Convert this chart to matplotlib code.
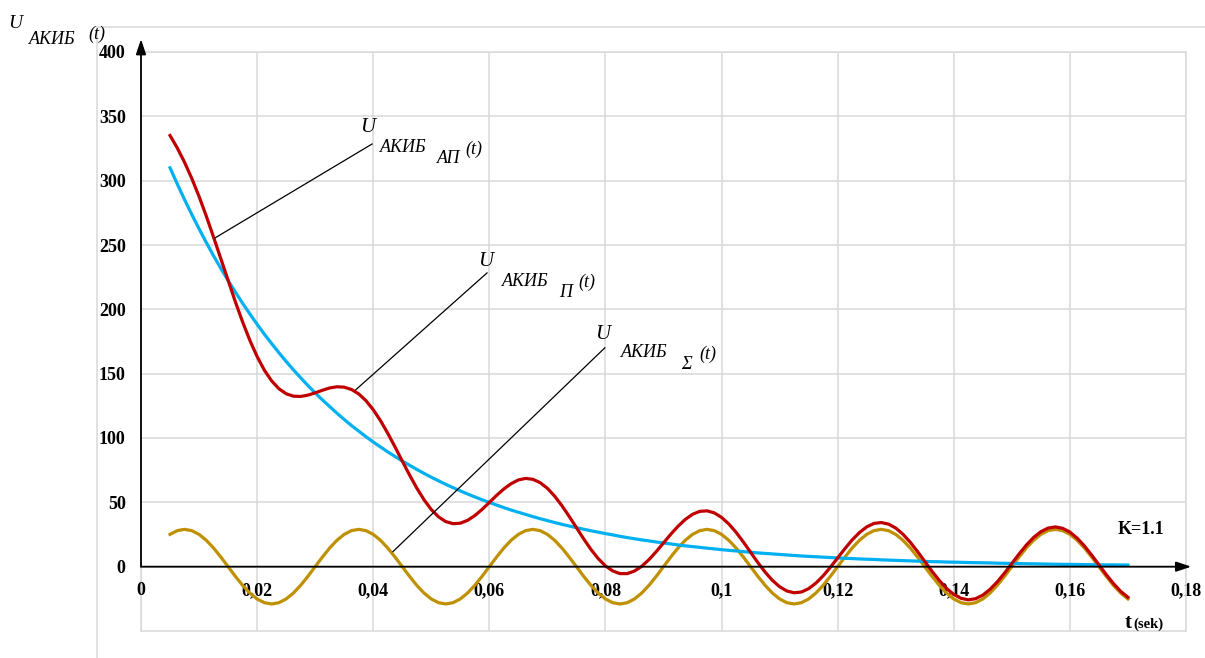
import matplotlib
matplotlib.use("Agg")
import numpy as np
import matplotlib.pyplot as plt
from matplotlib.lines import Line2D

plt.rcParams['font.family'] = ['Liberation Serif', 'DejaVu Serif']

# sample times, sek (every 1.25 ms from 0.005 to 0.17)
t = np.linspace(0.005, 0.17, 133)

# U_AKIB_P (t) - aperiodic part (blue)
u_p = [310, 297.4, 285.3, 273.7, 262.6, 251.9, 241.6, 231.8, 222.4, 213.4,
       204.7, 196.4, 188.4, 180.7, 173.4, 166.3, 159.5, 153.0, 146.8, 140.8,
       135.1, 129.6, 124.4, 119.3, 114.4, 109.7, 105.3, 101.0, 96.9, 93.0,
       89.2, 85.6, 82.1, 78.8, 75.6, 72.5, 69.5, 66.7, 64.0, 61.4,
       58.9, 56.5, 54.2, 52.0, 49.9, 47.9, 45.9, 44.0, 42.3, 40.6,
       38.9, 37.3, 35.8, 34.3, 32.9, 31.6, 30.3, 29.1, 27.9, 26.8,
       25.7, 24.7, 23.6, 22.6, 21.7, 20.8, 20.0, 19.2, 18.4, 17.7,
       16.9, 16.2, 15.6, 15.0, 14.4, 13.8, 13.2, 12.7, 12.2, 11.7,
       11.2, 10.7, 10.3, 9.9, 9.5, 9.1, 8.7, 8.3, 8.0, 7.7,
       7.4, 7.1, 6.8, 6.5, 6.3, 6.0, 5.8, 5.6, 5.3, 5.1,
       4.9, 4.7, 4.5, 4.3, 4.1, 3.9, 3.8, 3.6, 3.5, 3.4,
       3.2, 3.1, 3.0, 2.9, 2.7, 2.6, 2.5, 2.4, 2.3, 2.2,
       2.1, 2.0, 1.9, 1.8, 1.8, 1.7, 1.6, 1.5, 1.5, 1.4,
       1.4, 1.3, 1.3]

# U_AKIB_Sigma (t) - periodic part (gold)
u_s = [25.1, 28.0, 29, 28.0, 25.1, 20.5, 14.5, 7.5, 0, -7.5,
       -14.5, -20.5, -25.1, -28.0, -29, -28.0, -25.1, -20.5, -14.5, -7.5,
       0, 7.5, 14.5, 20.5, 25.1, 28.0, 29, 28.0, 25.1, 20.5,
       14.5, 7.5, 0, -7.5, -14.5, -20.5, -25.1, -28.0, -29, -28.0,
       -25.1, -20.5, -14.5, -7.5, 0, 7.5, 14.5, 20.5, 25.1, 28.0,
       29, 28.0, 25.1, 20.5, 14.5, 7.5, 0, -7.5, -14.5, -20.5,
       -25.1, -28.0, -29, -28.0, -25.1, -20.5, -14.5, -7.5, 0, 7.5,
       14.5, 20.5, 25.1, 28.0, 29, 28.0, 25.1, 20.5, 14.5, 7.5,
       0, -7.5, -14.5, -20.5, -25.1, -28.0, -29, -28.0, -25.1, -20.5,
       -14.5, -7.5, 0, 7.5, 14.5, 20.5, 25.1, 28.0, 29, 28.0,
       25.1, 20.5, 14.5, 7.5, 0, -7.5, -14.5, -20.5, -25.1, -28.0,
       -29, -28.0, -25.1, -20.5, -14.5, -7.5, 0, 7.5, 14.5, 20.5,
       25.1, 28.0, 29, 28.0, 25.1, 20.5, 14.5, 7.5, 0, -7.5,
       -14.5, -20.5, -25.1]

# U_AKIB_AP (t) - total (red)
u_ap = [335.1, 325.4, 314.3, 301.7, 287.7, 272.4, 256.1, 239.3, 222.4, 205.9,
        190.2, 175.9, 163.3, 152.7, 144.4, 138.3, 134.4, 132.5, 132.3, 133.3,
        135.1, 137.1, 138.9, 139.8, 139.5, 137.7, 134.3, 129.0, 122.0, 113.5,
        103.7, 93.1, 82.1, 71.3, 61.1, 52.0, 44.4, 38.7, 35.0, 33.4,
        33.8, 36.0, 39.7, 44.5, 49.9, 55.4, 60.4, 64.5, 67.4, 68.6,
        67.9, 65.3, 60.9, 54.8, 47.4, 39.1, 30.3, 21.6, 13.4, 6.3,
        0.6, -3.3, -5.4, -5.4, -3.4, 0.3, 5.5, 11.7, 18.4, 25.2,
        31.4, 36.7, 40.7, 43.0, 43.4, 41.8, 38.3, 33.2, 26.7, 19.2,
        11.2, 3.2, -4.2, -10.6, -15.6, -18.9, -20.3, -19.7, -17.1, -12.8,
        -7.1, -0.4, 6.8, 14.0, 20.8, 26.5, 30.9, 33.6, 34.3, 33.1,
        30.0, 25.2, 19.0, 11.8, 4.1, -3.6, -10.7, -16.9, -21.6, -24.6,
        -25.8, -24.9, -22.1, -17.6, -11.8, -4.9, 2.5, 9.9, 16.8, 22.7,
        27.2, 30.0, 30.9, 29.8, 26.9, 22.2, 16.1, 9.0, 1.5, -6.1,
        -13.1, -19.2, -23.8]

xticks = [0, 0.02, 0.04, 0.06, 0.08, 0.1, 0.12, 0.14, 0.16, 0.18]
xlabels = ['0', '0,02', '0,04', '0,06', '0,08', '0,1', '0,12', '0,14', '0,16', '0,18']
yticks = [0, 50, 100, 150, 200, 250, 300, 350, 400]

grid_c = '#d9d9d9'

fig = plt.figure(figsize=(12.05, 6.58), dpi=100)
ax = fig.add_axes([141/1205, 1 - 631/658, (1186 - 141)/1205, (631 - 52)/658])
ax.set_xlim(0, 0.18)
ax.set_ylim(-50, 400)

ax.plot(t, u_s, color='#BF9000', lw=2.3, zorder=3)
ax.plot(t, u_p, color='#00B0F0', lw=2.3, zorder=4)
ax.plot(t, u_ap, color='#C00000', lw=2.3, zorder=5)

# x tick labels sit on the y=0 line
ax.spines['bottom'].set_position(('data', 0))
ax.spines['bottom'].set_visible(False)
ax.spines['left'].set_visible(False)
for s in ['top', 'right']:
    ax.spines[s].set_color(grid_c)
    ax.spines[s].set_linewidth(1.1)

ax.set_xticks(xticks)
ax.set_xticklabels(xlabels, fontweight='bold', fontsize=13)
ax.set_yticks(yticks)
ax.set_yticklabels([str(v) for v in yticks], fontweight='bold', fontsize=13)
ax.tick_params(axis='both', length=0)
ax.tick_params(axis='x', pad=11)
ax.tick_params(axis='y', pad=11)
ax.grid(True, color=grid_c, lw=1.1, zorder=0)
ax.axhline(-50, color=grid_c, lw=1.1, clip_on=False, zorder=0)
ax.axvline(0, color=grid_c, lw=1.1, clip_on=False, zorder=0)

# axes arrows
arr = dict(arrowstyle='-|>,head_length=0.9,head_width=0.3', color='black', lw=1.3,
           shrinkA=0, shrinkB=0)
ax.annotate('', xy=(0.1809, 0), xytext=(0, 0), arrowprops=arr, annotation_clip=False, zorder=6)
ax.annotate('', xy=(0, 410), xytext=(0, 0), arrowprops=arr, annotation_clip=False, zorder=6)

# leader lines and curve labels
it = dict(style='italic', ha='center', va='center')
leaders = [
    ((0.01275, 255.5), (0.0398, 328.5)),
    ((0.0370, 137.5), (0.0596, 228.3)),
    ((0.0434, 11.7), (0.0799, 170.1)),
]
for (x0, y0), (x1, y1) in leaders:
    ax.plot([x0, x1], [y0, y1], color='black', lw=0.9, zorder=6)

labels = [
    ((0.0391, 341.0), (0.0452, 325.4), (0.0530, 316.9), 'АП', (0.0574, 324.7)),
    ((0.0594, 236.9), (0.0662, 221.4), (0.0732, 212.8), 'П', (0.0768, 220.6)),
    ((0.0796, 180.2), (0.0867, 166.2), (0.0939, 156.9), 'Σ', (0.0976, 164.7)),
]
for pu, pa, ps, sub, pt in labels:
    ax.text(*pu, 'U', fontsize=15, **it)
    ax.text(*pa, 'АКИБ', fontsize=13, **it)
    ax.text(*ps, sub, fontsize=13, **it)
    ax.text(*pt, '(t)', fontsize=13, **it)

ax.text(0.1722, 28.7, 'K=1.1', fontsize=13, fontweight='bold', ha='center', va='center')
ax.text(0.1695, -47.5, 't', fontsize=15, fontweight='bold', ha='left', va='baseline')
ax.text(0.1709, -47.5, '(sek)', fontsize=10.5, fontweight='bold', ha='left', va='baseline')

# y axis title
fig.text(15/1205, 1 - 24/658, 'U', fontsize=14, **it)
fig.text(52/1205, 1 - 40/658, 'АКИБ', fontsize=13, **it)
fig.text(97/1205, 1 - 34/658, '(t)', fontsize=13, **it)

# outer chart border
fig.add_artist(Line2D([97/1205, 1], [1 - 27/658, 1 - 27/658], color=grid_c, lw=1.1))
fig.add_artist(Line2D([97/1205, 97/1205], [0, 1 - 27/658], color=grid_c, lw=1.1))

fig.savefig('out.png', dpi=100)
